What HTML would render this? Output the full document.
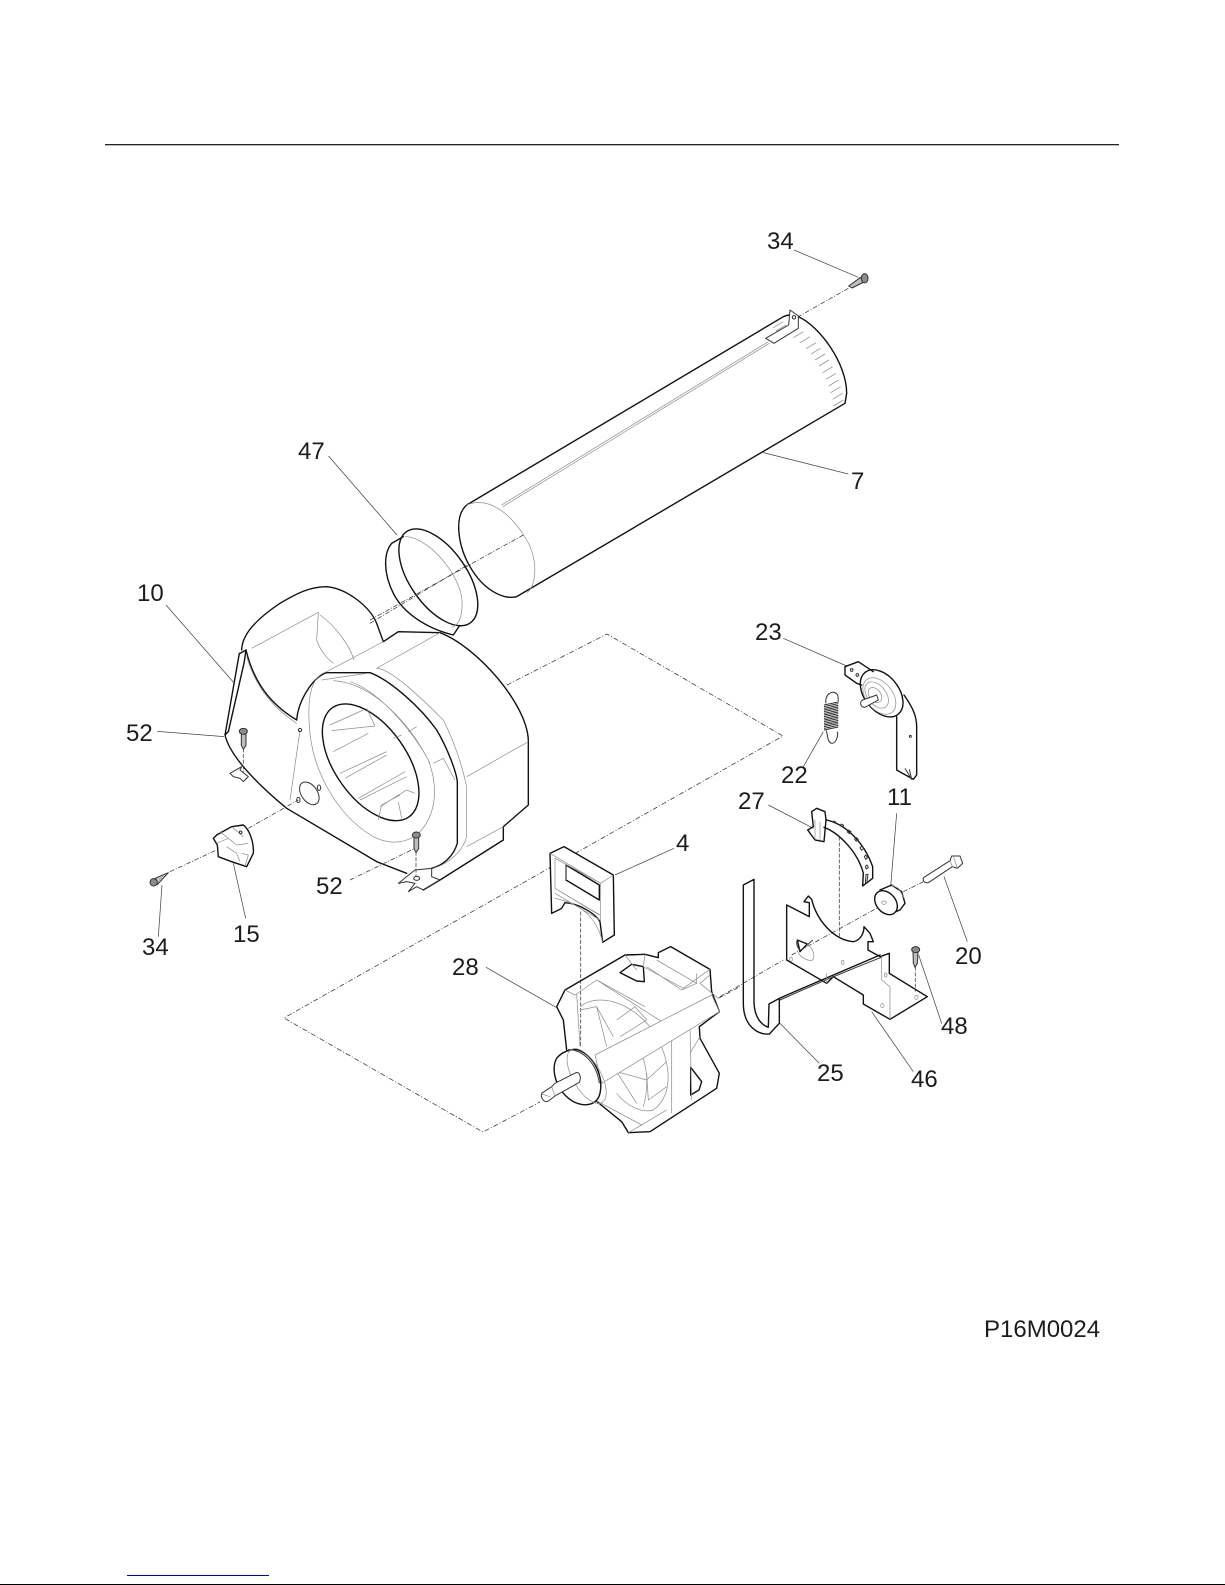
<!DOCTYPE html>
<html><head><meta charset="utf-8"><style>
html,body{margin:0;padding:0;background:#fff}
svg{display:block}
text{font-family:"Liberation Sans",sans-serif;font-size:24px;fill:#1c1c1c}
.k{fill:none;stroke:#111;stroke-width:4.2;stroke-linejoin:round;stroke-linecap:round}
.m{fill:none;stroke:#333;stroke-width:3;stroke-linejoin:round}
.g{fill:none;stroke:#8f8f8f;stroke-width:2.2;stroke-linejoin:round}
.d{fill:none;stroke:#333;stroke-width:2.2;stroke-dasharray:14 5 3 5}
.s{fill:none;stroke:#444;stroke-width:2.4;stroke-dasharray:12 5}
.l{fill:none;stroke:#444;stroke-width:2.2}
.w{fill:#fff}
.c{fill:#bdbdbd}
.x{fill:#8c8c8c}
</style></head><body>
<svg width="1225" height="1585" viewBox="0 0 1225 1585" xmlns="http://www.w3.org/2000/svg">
<rect width="1225" height="1585" fill="#fff"/>
<rect x="105" y="144" width="1014" height="1.3" fill="#222"/>
<rect x="127" y="1575" width="142" height="1" fill="#0000cc"/>
<rect x="0" y="1584" width="1225" height="1" fill="#000"/>

<path d="M507,685 L607,634 L783,736 L284,1018 L483,1132 L540,1102" fill="none" stroke="#333" stroke-width=".75" stroke-dasharray="5 2 1 2"/>
<path d="M328.5,456 L397,535" fill="none" stroke="#444" stroke-width=".75"/>

<!-- drum, ring -->
<g transform="translate(370 220) scale(.33333)">
<path class="k" d="M290,855 L1240,290 Q1262,280 1285,290 C1350,320 1430,430 1430,520 L1425,550 L440,1130 C400,1140 340,1110 300,1040 C265,980 250,890 290,855"/>
<path class="g" d="M290,855 C360,825 430,890 470,960 C505,1020 500,1100 470,1118"/>
<path class="g" d="M395,855 L1195,365 M398,860 L1198,370"/>
<path class="m w" d="M1260,270 L1285,288 L1285,325 L1212,370 L1187,355 L1256,315 Z"/>
<circle class="m" cx="1272" cy="292" r="5"/>
<path class="g" d="M1300,335l-30,18M1320,350l-30,18M1338,368l-30,18M1352,385l-30,18M1365,402l-30,18M1377,420l-30,18M1388,440l-30,18M1398,460l-30,18M1406,480l-30,18M1412,500l-30,18M1418,520l-30,18M1420,540l-30,18M1240,305l-30,18M1248,315l-30,18"/>
<path class="d" d="M1435,205 L1285,290 M460,945 L0,1200"/>
<path class="l" d="M1272,90 L1465,172 M1180,698 L1435,762"/>
<path class="m c" d="M1436,198 L1472,172 L1482,186 L1446,204 Z"/>
<ellipse class="m x" cx="1484" cy="175" rx="10" ry="14"/>
<ellipse class="k" cx="205" cy="1072" rx="167" ry="85" transform="rotate(55 205 1072)"/>
<path class="k" d="M100,950 L65,970 C40,1000 40,1060 70,1120 C100,1180 170,1225 250,1245 L268,1218"/>
<path class="g" d="M105,950 C170,950 260,1050 275,1130 C280,1180 270,1215 245,1222"/>
</g>

<!-- fan housing -->
<g transform="translate(100 560) scale(.33333)">
<path class="k" d="M425,270 C425,235 450,190 540,130 C590,100 630,80 680,80 C740,85 810,140 830,190 L850,245 L895,215 L1020,218 C1130,260 1280,430 1285,540 L1285,735 L1210,800 L1210,840 L1020,960 L970,990"/>
<path class="k" d="M375,525 C390,590 470,670 560,745 L830,905 L920,940 M420,280 L438,270 L432,310 L385,515 L375,525 L418,280"/>
<path class="k" d="M438,270 C455,340 490,420 590,480 C595,420 640,350 680,338 L810,338 C870,360 960,440 1010,510 C1040,560 1072,640 1072,670 L1072,850 C1060,890 1030,915 995,925"/>
<ellipse class="k" cx="812" cy="607" rx="200" ry="108" transform="rotate(55 812 607)"/>
<path class="g" d="M455,265 L655,157 L650,240 C660,270 680,295 700,310 M660,165 C710,200 750,260 762,300 M680,335 L850,245 M830,325 L1020,218 M440,290 C460,360 500,430 590,490 M600,510 L570,720"/>
<path class="g" d="M680,335 C630,350 620,420 630,520 C640,620 700,760 820,830 C880,860 930,845 960,815 M665,360 L800,340 M750,365 C830,390 930,500 985,600 C1015,680 1010,760 960,815 M700,362 C820,370 930,490 990,610 M830,325 C870,325 960,410 1030,480 C1060,540 1085,610 1100,680 L1100,830 C1090,870 1050,910 1000,925 M1100,650 L1285,545 M1100,860 L1210,800 M1000,610 L1030,595 L1065,660"/>
<path class="g" d="M690,495 L790,450 M695,512 L825,498 L800,445 M700,575 L805,520 M720,640 L860,575 M735,655 L860,585 M775,715 L915,635 M780,720 L920,650 M840,740 L920,690 L945,700 M835,780 L845,735 L900,705 M895,725 L905,775 M950,500 L925,515 M880,535 L905,525"/>
<circle class="m" cx="600" cy="510" r="5"/>
<ellipse class="m" cx="628" cy="700" rx="38" ry="24" transform="rotate(55 628 700)"/>
<ellipse class="m" cx="595" cy="720" rx="5" ry="8"/>
<ellipse class="m" cx="657" cy="683" rx="5" ry="8"/>
<path class="m" d="M390,640 L425,620 L420,630 L445,650 L430,665 L420,655 L400,650 Z"/>
<path class="m" d="M895,970 L920,950 L945,930 L995,925 L995,950 L1020,960 L970,990 L950,980 L925,995 L945,970 L920,965 Z"/>
<ellipse class="m" cx="950" cy="955" rx="9" ry="6"/>
<path class="s" d="M430,565 L430,640 M948,875 L948,950"/>
<path class="d" d="M210,935 L350,870 M445,805 L595,720 M810,190 L1110,10"/>
<path class="m c" d="M424,520 L424,556 L430,568 L438,556 L438,520 Z"/>
<ellipse class="m x" cx="430" cy="514" rx="12" ry="9"/>
<path class="m c" d="M942,830 L942,866 L948,878 L956,866 L956,830 Z"/>
<ellipse class="m x" cx="949" cy="825" rx="12" ry="9"/>
<path class="m c" d="M165,955 L205,938 L172,974 Z"/>
<circle class="m x" cx="161" cy="967" r="11"/>
<path class="k" d="M352,855 L340,835 L350,825 L395,800 L430,795 C450,810 462,850 460,880 L440,920 L395,905 L355,890 Z"/>
<path class="g" d="M360,815 L410,855 L445,850 M395,800 L430,830 M380,860 L410,880 L420,905 M425,880 L445,885 L435,918 M350,850 L385,835"/>
<circle class="m" cx="422" cy="817" r="4"/>
<path class="l" d="M198,135 L405,372 M172,514 L372,530 M400,910 L437,1075 M186,975 L175,1130"/>
<path class="d" d="M750,960 L945,865"/>
</g>

<!-- block 4 and motor -->
<g transform="translate(440 820) scale(.33333)">
<path class="d" d="M835,535 L900,500"/>
<path class="k w" d="M330,100 L372,80 L520,165 L523,345 L488,367 L480,305 C470,285 420,250 375,248 L365,265 L335,280 Z"/>
<path class="s" d="M422,275 L422,680"/>
<path class="k" d="M378,135 L478,195 L478,240 L378,180 Z"/>
<path class="g" d="M345,115 L482,190 L482,305 M330,100 L482,190 L520,165 M345,115 L345,205 L480,285 M345,205 L478,285 M345,235 C420,250 470,290 488,367 M378,135 L378,180 M345,220 L480,300"/>
<path class="k" d="M350,560 L375,510 L555,405 L615,403 L655,413 L655,398 L692,380 L810,448 L815,515 L838,575 L778,620 L780,655 L838,760 L830,805 L630,935 L565,938 L545,905 L465,840 M350,560 L370,600 L380,690"/>
<path class="k" d="M540,458 L575,433 L610,440 L613,485 L590,483 Z M752,742 L785,785 L777,810 L752,825 Z"/>
<path class="g" d="M375,510 L405,525 L470,480 L615,560 M410,520 L420,680 M470,480 L720,640 M555,405 L590,450 M615,403 L610,440 M610,440 L730,505 L810,448 M650,420 L770,490 L725,510 L620,440 M770,490 L770,460 M810,465 L780,490 L835,535 M695,650 L695,880 M750,620 L755,840 M780,650 L750,700"/>
<path class="g" d="M420,560 C470,520 560,540 630,620 C690,700 710,820 640,870 C610,880 560,860 530,820 M420,570 L470,560 L500,680 M470,560 L520,650 M530,600 L585,560 L620,600 L540,650 M530,755 L620,780 L680,725 M620,760 L625,840 L680,800 M530,755 L590,850 M590,670 C620,720 630,790 610,860 M465,840 L605,915 L565,938 M605,915 L680,870"/>
<path class="g w" d="M465,705 L815,525 L838,575 L485,790 Z"/>
<path class="k w" d="M415,690 C465,710 490,770 480,820 C470,860 430,860 400,845 C350,815 330,750 350,715 C365,695 395,685 415,690 Z"/>
<path class="m" d="M385,688 C430,690 470,730 478,790"/>
<ellipse class="g" cx="440" cy="768" rx="92" ry="42" transform="rotate(60 440 768)"/>
<path class="m w" d="M410,757 L345,790 L335,800 L305,820 C300,835 315,850 325,843 L345,828 L418,787 C425,770 418,757 410,757 Z"/>
<path class="g" d="M335,800 L345,828 M305,822 L330,830"/>
<path class="l" d="M138,442 L348,562 M525,165 L702,85"/>
</g>

<!-- right-hand parts -->
<g transform="translate(720 620) scale(.33333)">
<path class="d" d="M0,1130 L190,1020 M215,1005 L470,865 M550,815 L610,785"/>
<path class="s" d="M358,650 L358,950 M586,1040 L586,1115"/>
<path class="l" d="M190,55 L380,138 M310,335 L250,440 M145,555 L280,625 M530,580 L512,800 M672,770 L742,965 M596,1005 L665,1210 M180,1210 L298,1330 M455,1175 L580,1355"/>
<path class="k" d="M375,140 L415,125 L460,155 M375,140 L375,165 L410,190 L425,195"/>
<circle class="m" cx="395" cy="150" r="4"/><circle class="m" cx="412" cy="165" r="4"/>
<ellipse class="k" cx="485" cy="220" rx="80" ry="52" transform="rotate(52 485 220)"/>
<ellipse class="g" cx="478" cy="228" rx="62" ry="40" transform="rotate(52 478 228)"/>
<ellipse class="g" cx="470" cy="225" rx="45" ry="28" transform="rotate(52 470 225)"/>
<ellipse class="g" cx="465" cy="225" rx="25" ry="17" transform="rotate(52 465 225)"/>
<path class="k" d="M552,225 C580,265 590,290 590,320 L590,465 L580,478 L530,450 L530,290"/>
<path class="m" d="M555,445 L575,478 L568,448"/>
<circle class="m" cx="571" cy="349" r="3"/>
<path class="m w" d="M428,240 L470,225 L475,240 L435,262 C420,262 418,245 428,240 Z"/>
<path class="m" d="M318,250 C312,220 345,205 354,228 L355,245 M312,255 L355,246 M312,260 L355,251 M312,265 L355,256 M312,270 L355,261 M312,275 L355,266 M312,280 L355,271 M312,285 L355,276 M312,290 L355,281 M312,295 L355,286 M312,300 L355,291 M312,305 L355,296 M312,310 L355,301 M312,315 L355,306 M312,320 L355,311 M312,325 L355,316 M312,330 L355,321 M318,332 C325,345 320,365 335,370 C350,370 355,345 352,335"/>
<path class="k" d="M263,630 L280,620 L275,575 L290,565 L315,575 L318,600 L312,665 L285,660 Z"/>
<path class="g" d="M285,600 L285,658 M300,605 L300,660"/>
<path class="k" d="M318,600 C370,610 430,660 458,740 L458,775 L428,798 L430,760 C415,700 360,640 312,622"/>
<path class="m" d="M342,603l5,3-3,3-5-3zM364,612l7,4-4,5-6-4zM386,630l7,5-5,6-6-5zM408,652l7,6-6,6-5-6zM425,678l6,7-6,6-5-7zM437,705l6,8-6,5-4-8zM441,735l4,8-6,4-3-7z"/>
<path class="m" d="M438,763 L444,763 L440,790 L436,790 Z"/>
<path class="k" d="M480,810 L515,795 L545,815 L555,850 L540,870 L510,882"/>
<ellipse class="k w" cx="498" cy="848" rx="40" ry="29" transform="rotate(50 498 848)"/>
<path class="g" d="M515,795 L535,805 L553,835"/>
<ellipse class="g" cx="492" cy="848" rx="7" ry="5"/>
<path class="m w" d="M612,772 L690,722 L695,708 L720,708 L728,730 L712,745 L697,740 L625,788 C612,790 606,780 612,772 Z"/>
<path class="g" d="M700,708 L712,745 M690,722 L697,740"/>
<path class="k" d="M70,795 L102,778 L102,1150 C105,1195 125,1215 145,1222 L147,1152 L178,1135 L178,1210 L148,1242 C110,1245 70,1215 70,1150 Z"/>
<path class="k" d="M200,855 L268,890 L268,848 L252,845 L265,828 L275,838 C290,900 340,960 400,965 C425,960 432,935 432,920 L450,940 L460,965 L444,965 L444,990 L480,1010 L508,1000 L508,1060 L622,1130 L510,1198 L430,1152 L430,1125 L340,1070 L320,1090 L200,1020 Z"/>
<path class="k" d="M178,1135 C280,1090 400,1040 480,1005"/>
<path class="m" d="M180,1140 C280,1095 400,1045 484,1012"/>
<path class="k" d="M232,960 L262,972 L240,995 Z"/>
<path class="m" d="M232,960 C225,975 240,995 245,990 L278,960"/>
<path class="g" d="M262,972 C285,990 285,1015 275,1022 C250,1020 235,1005 232,990 M485,1010 L485,1080 L510,1100 L510,1198 M320,1060 L320,1090"/>
<ellipse class="g" cx="213" cy="1018" rx="4" ry="6"/><ellipse class="g" cx="368" cy="1027" rx="4" ry="6"/><ellipse class="g" cx="497" cy="1065" rx="4" ry="6"/><ellipse class="g" cx="487" cy="1157" rx="5" ry="6"/><ellipse class="g" cx="589" cy="1132" rx="5" ry="6"/>
<path class="m c" d="M579,995 L580,1030 L585,1042 L592,1030 L594,997 Z"/>
<ellipse class="m x" cx="587" cy="989" rx="12" ry="9"/>
</g>

<text x="767" y="249">34</text>
<text x="851" y="489">7</text>
<text x="298" y="459">47</text>
<text x="137" y="601">10</text>
<text x="126" y="741">52</text>
<text x="316" y="894">52</text>
<text x="142" y="955">34</text>
<text x="233" y="942">15</text>
<text x="676" y="851">4</text>
<text x="452" y="975">28</text>
<text x="755" y="640">23</text>
<text x="781" y="783">22</text>
<text x="738" y="809">27</text>
<text x="887" y="805">11</text>
<text x="955" y="964">20</text>
<text x="941" y="1034">48</text>
<text x="817" y="1081">25</text>
<text x="911" y="1087">46</text>
<text x="984" y="1337">P16M0024</text>
</svg>
</body></html>
